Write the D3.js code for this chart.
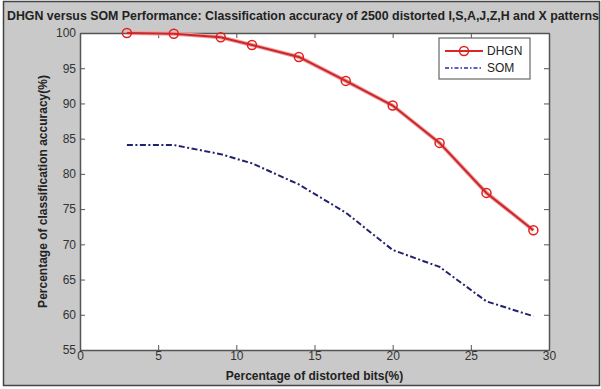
<!DOCTYPE html>
<html lang="en">
<head>
<meta charset="UTF-8">
<title>DHGN versus SOM Performance</title>
<script src="https://d3js.org/d3.v7.min.js"></script>
<style>
    body { margin: 0; background: #fff; }
    svg { display: block; }
    text { font-family: "Liberation Sans Narrow", "Arial Narrow", "Liberation Sans", Arial, sans-serif; fill: #222; }
    .tick-label { font-size: 12px; fill: #333; }
    .bold { font-weight: bold; }
</style>
</head>
<body>
<svg id="chart"></svg>
<script>
// Data
const distortion = [3, 6, 9, 11, 14, 17, 20, 23, 26, 29];
const dhgnAccuracy = [100, 99.9, 99.4, 98.3, 96.6, 93.2, 89.7, 84.4, 77.3, 72.0];
const somAccuracy = [84.1, 84.1, 82.8, 81.5, 78.5, 74.5, 69.2, 66.8, 61.9, 59.8];
const xTicks = [0, 5, 10, 15, 20, 25, 30];
const yTicks = [55, 60, 65, 70, 75, 80, 85, 90, 95, 100];
const seriesNames = ["DHGN", "SOM"];

const W = 601, H = 389;
const plot = { left: 80, right: 549, top: 33, bottom: 350 };

const svg = d3.select("#chart").attr("width", W).attr("height", H);

// figure background + frame
svg.append("rect").attr("x", 0).attr("y", 0).attr("width", W).attr("height", H).attr("fill", "#fff");
svg.append("rect").attr("x", 3.5).attr("y", 1.5).attr("width", 596).attr("height", 384)
    .attr("fill", "#c9c9c9").attr("stroke", "#444").attr("stroke-width", 1.5);

const x = d3.scaleLinear().domain([0, 30]).range([plot.left, plot.right]);
const y = d3.scaleLinear().domain([55, 100]).range([plot.bottom, plot.top]);

// axes area
svg.append("rect")
    .attr("x", plot.left).attr("y", plot.top)
    .attr("width", plot.right - plot.left).attr("height", plot.bottom - plot.top)
    .attr("fill", "#fff");

const tickLen = 5;
const axisColor = "#555";

// bottom axis + mirrored top ticks
const xAxis = svg.append("g").attr("transform", `translate(0,${plot.bottom})`)
    .call(d3.axisBottom(x).tickValues(xTicks).tickSize(-tickLen).tickPadding(3).tickSizeOuter(0));
const xAxisTop = svg.append("g").attr("transform", `translate(0,${plot.top})`)
    .call(d3.axisTop(x).tickValues(xTicks).tickSize(-tickLen).tickFormat("").tickSizeOuter(0));

const yAxis = svg.append("g").attr("transform", `translate(${plot.left},0)`)
    .call(d3.axisLeft(y).tickValues(yTicks).tickSize(-tickLen).tickPadding(4).tickSizeOuter(0));
const yAxisRight = svg.append("g").attr("transform", `translate(${plot.right},0)`)
    .call(d3.axisRight(y).tickValues(yTicks).tickSize(-tickLen).tickFormat("").tickSizeOuter(0));

[xAxis, xAxisTop, yAxis, yAxisRight].forEach(g => {
    g.select(".domain").attr("stroke", axisColor).attr("stroke-width", 1.5);
    g.selectAll(".tick line").attr("stroke", axisColor);
    g.selectAll(".tick text").attr("class", "tick-label").attr("font-size", null).attr("font-family", null);
});
xAxis.selectAll(".tick text").attr("dy", "0.6em");

// series
const lineGen = d3.line().x(d => x(d[0])).y(d => y(d[1]));
const dhgnData = distortion.map((d, i) => [d, dhgnAccuracy[i]]);
const somData = distortion.map((d, i) => [d, somAccuracy[i]]);

// soft halo for the red line (jpeg-ish look)
svg.append("path").datum(dhgnData).attr("d", lineGen)
    .attr("fill", "none").attr("stroke", "#f4a0a0").attr("stroke-width", 4);
svg.append("path").datum(dhgnData).attr("d", lineGen)
    .attr("fill", "none").attr("stroke", "#c8282c").attr("stroke-width", 2);

svg.selectAll(".marker").data(dhgnData).enter().append("circle")
    .attr("class", "marker")
    .attr("cx", d => x(d[0])).attr("cy", d => y(d[1])).attr("r", 4.5)
    .attr("fill", "none").attr("stroke", "#e0201e").attr("stroke-width", 1.5);

svg.append("path").datum(somData).attr("d", lineGen)
    .attr("fill", "none").attr("stroke", "#22226e").attr("stroke-width", 2)
    .attr("stroke-dasharray", "6,2.5,2,2.5");

// legend
const lg = svg.append("g").attr("transform", "translate(439,38)");
lg.append("rect").attr("width", 91).attr("height", 41)
    .attr("fill", "#fff").attr("stroke", "#666").attr("stroke-width", 1.2);
lg.append("line").attr("x1", 6).attr("x2", 44).attr("y1", 13).attr("y2", 13)
    .attr("stroke", "#d8282c").attr("stroke-width", 2);
lg.append("circle").attr("cx", 25).attr("cy", 13).attr("r", 4.5)
    .attr("fill", "none").attr("stroke", "#e0201e").attr("stroke-width", 1.5);
lg.append("line").attr("x1", 6).attr("x2", 44).attr("y1", 30).attr("y2", 30)
    .attr("stroke", "#2a2ab0").attr("stroke-width", 1.5)
    .attr("stroke-dasharray", "4,2,1.5,2");
lg.selectAll(".leg-text").data(seriesNames).enter().append("text")
    .attr("class", "leg-text")
    .attr("x", 48).attr("y", (d, i) => 13 + i * 17).attr("dy", "0.35em")
    .attr("font-size", 12).text(d => d);

// titles
svg.append("text").attr("class", "bold")
    .attr("x", 7).attr("y", 20).attr("font-size", 12)
    .attr("textLength", 592).attr("lengthAdjust", "spacingAndGlyphs")
    .text("DHGN versus SOM Performance: Classification accuracy of 2500 distorted I,S,A,J,Z,H and X patterns");

svg.append("text").attr("class", "bold")
    .attr("x", (plot.left + plot.right) / 2).attr("y", 380)
    .attr("text-anchor", "middle").attr("font-size", 12)
    .text("Percentage of distorted bits(%)");

svg.append("text").attr("class", "bold")
    .attr("transform", `translate(47,${(plot.top + plot.bottom) / 2}) rotate(-90)`)
    .attr("text-anchor", "middle").attr("font-size", 12)
    .text("Percentage of classification accuracy(%)");
</script>
</body>
</html>
